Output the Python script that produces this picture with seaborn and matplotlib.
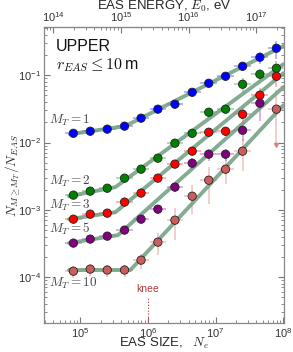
import numpy as np
import pandas as pd
import matplotlib
matplotlib.use("Agg")
import matplotlib.pyplot as plt
import seaborn as sns

# EAS size bins (bin centres, Ne)
ne = [7.9e4, 1.4e5, 2.5e5, 4.5e5, 7.9e5, 1.4e6, 2.5e6, 4.5e6, 7.9e6,
      1.4e7, 2.5e7, 4.5e7, 7.9e7]
ne_halfbin = 1.33  # multiplicative half-width of a bin

series = ["1", "2", "3", "5", "10"]
colors = {"1": "#0000ff", "2": "#008000", "3": "#ff0000",
          "5": "#800080", "10": "#cd5c5c"}

frac_1 = [0.0137, 0.0147, 0.0158, 0.0175, 0.0230, 0.0313, 0.0371, 0.0558,
          0.0760, 0.0966, 0.136, 0.185, 0.252]
frac_2 = [1.65e-3, 1.89e-3, 2.09e-3, 2.95e-3, 4.01e-3, 5.85e-3, 9.77e-3,
          0.0137, 0.0282, 0.0313, 0.0735, 0.1035, 0.127]
frac_3 = [7.24e-4, 8.60e-4, 8.90e-4, 1.30e-3, 1.77e-3, 2.95e-3, 4.77e-3,
          7.43e-3, 0.0142, 0.0147, 0.0263, 0.0505, 0.0966]
frac_5 = [3.19e-4, 3.66e-4, 4.05e-4, 4.98e-4, 7.24e-4, 1.02e-3, 2.17e-3,
          4.92e-3, 6.70e-3, 6.70e-3, 0.0152, 0.0384, np.nan]
frac_10 = [1.22e-4, 1.31e-4, 1.27e-4, 1.27e-4, 1.78e-4, 3.30e-4, 7.00e-4,
           1.59e-3, 2.75e-3, 4.01e-3, 7.43e-3, np.nan, 0.0313]

# relative (symmetric) errors
err_1 = [0.03, 0.03, 0.03, 0.03, 0.04, 0.04, 0.05, 0.06, 0.07, 0.1, 0.15, 0.2, 0.3]
err_2 = [0.03, 0.03, 0.04, 0.05, 0.06, 0.07, 0.08, 0.1, 0.12, 0.15, 0.25, 0.2, 0.27]
err_3 = [0.04, 0.04, 0.05, 0.06, 0.08, 0.1, 0.1, 0.12, 0.15, 0.15, 0.25, 0.3, 0.3]
err_5 = [0.05, 0.05, 0.06, 0.07, 0.1, 0.12, 0.15, 0.2, 0.2, 0.2, 0.3, 0.45, np.nan]
err_10 = [0.2, 0.2, 0.2, 0.2, 0.25, 0.35, 0.5, 0.45, 0.55, 0.4, 0.5, np.nan, 0.9]

# last M_T=10 point: lower error drawn as an arrow down to this value
arrow_to = 9.1e-3

# broken power-law fits: (start, knee, end) vertices
fit_ne_1 = [7.0e4, 4.6e5, 1.0e8]
fit_y_1 = [0.0133, 0.0175, 0.272]
fit_ne_2 = [6.8e4, 3.3e5, 1.0e8]
fit_y_2 = [1.59e-3, 2.17e-3, 0.146]
fit_ne_3 = [6.8e4, 3.3e5, 1.0e8]
fit_y_3 = [7.24e-4, 9.2e-4, 0.107]
fit_ne_5 = [6.8e4, 3.6e5, 1.0e8]
fit_y_5 = [3.19e-4, 4.2e-4, 0.0664]
fit_ne_10 = [6.8e4, 5.5e5, 1.0e8]
fit_y_10 = [1.27e-4, 1.27e-4, 0.0358]

label_pos = {"1": 0.0214, "2": 2.66e-3, "3": 1.17e-3, "5": 5.15e-4, "10": 8.1e-5}

fracs = {"1": frac_1, "2": frac_2, "3": frac_3, "5": frac_5, "10": frac_10}
errs = {"1": err_1, "2": err_2, "3": err_3, "5": err_5, "10": err_10}
fits = {"1": (fit_ne_1, fit_y_1), "2": (fit_ne_2, fit_y_2), "3": (fit_ne_3, fit_y_3),
        "5": (fit_ne_5, fit_y_5), "10": (fit_ne_10, fit_y_10)}

rows = []
for s in series:
    for n, f, e in zip(ne, fracs[s], errs[s]):
        if not np.isnan(f):
            rows.append({"series": s, "Ne": n, "frac": f, "rel": e})
df = pd.DataFrame(rows)

fit_rows = []
for s in series:
    for n, f in zip(*fits[s]):
        fit_rows.append({"series": s, "Ne": n, "frac": f})
fit_df = pd.DataFrame(fit_rows)

sns.set_style("ticks")
plt.rcParams["font.family"] = ["Liberation Sans", "DejaVu Sans"]
plt.rcParams["mathtext.fontset"] = "cm"

fig = plt.figure(figsize=(2.93, 3.52), dpi=100)
ax = fig.add_axes([0.150, 0.082, 0.819, 0.841])
ax.set_xscale("log")
ax.set_yscale("log")

# error bars
for s in series:
    d = df[df.series == s]
    yerr = (d.frac * d.rel).values
    lo = yerr.copy()
    if s == "10":
        lo[-1] = d.frac.values[-1] - arrow_to
    xerr = [d.Ne - d.Ne / ne_halfbin, d.Ne * ne_halfbin - d.Ne]
    ax.errorbar(d.Ne, d.frac, xerr=xerr, yerr=[lo, yerr], fmt="none",
                ecolor=colors[s], alpha=0.35, elinewidth=1.2, capsize=0, zorder=2)

d10 = df[df.series == "10"]
ax.plot([d10.Ne.values[-1]], [arrow_to], marker="v", color=colors["10"],
        alpha=0.6, markersize=3, zorder=2)

# fit lines
sns.lineplot(data=fit_df, x="Ne", y="frac", units="series", estimator=None,
             sort=False, color="#6f9e80", lw=2.8, alpha=0.85, ax=ax, zorder=3)

# data points
sns.scatterplot(data=df, x="Ne", y="frac", hue="series", palette=colors,
                s=36, edgecolor="#222222", linewidth=0.6, legend=False,
                ax=ax, zorder=4)

for s in series:
    ax.text(3.5e4, label_pos[s], rf"$M_T = {s}$", fontsize=9.5,
            color="#444444", va="center", ha="left")

ax.text(0.05, 0.935, "UPPER", transform=ax.transAxes, fontsize=11.5,
        color="#111111", va="center")
ax.text(0.05, 0.87, r"$r_{EAS} \leq 10\,$m", transform=ax.transAxes,
        fontsize=11.5, color="#111111", va="center")

# knee marker
ax.text(1e6, 6.6e-5, "knee", color="#b03a3a", fontsize=7.5, ha="center", va="center")
ax.plot([1e6, 1e6], [2.06e-5, 4.8e-5], ls=":", lw=0.8, color="#b03a3a")

ax.set_xlim(2.9e4, 1.02e8)
ax.set_ylim(2.06e-5, 0.52)

ax.set_xlabel(r"EAS SIZE,  $\;N_e$", fontsize=9.5, va="center")
ax.xaxis.set_label_coords(0.5, -0.069)
ax.set_ylabel(r"$N_{M\geq M_T}/N_{EAS}$", fontsize=9.5, va="center")
ax.yaxis.set_label_coords(-0.128, 0.5)

top = ax.secondary_xaxis("top", functions=(lambda n: n * 10**9.4,
                                            lambda e: e / 10**9.4))
top.set_xlabel(r"EAS ENERGY, $E_0$, eV", fontsize=9.5, va="center")
top.xaxis.set_label_coords(0.5, 1.07, transform=ax.transAxes)

for a in (ax, top):
    a.tick_params(which="both", direction="in", colors="#777777",
                  labelcolor="#333333", labelsize=8)
    a.tick_params(which="major", length=4, width=0.8)
    a.tick_params(which="minor", length=2, width=0.6)
ax.tick_params(which="both", top=False, right=True)
ax.tick_params(axis="x", pad=2)
ax.tick_params(axis="y", pad=2)
top.tick_params(axis="x", pad=2)

for sp in ax.spines.values():
    sp.set_color("#888888")
    sp.set_linewidth(0.9)
top.spines["top"].set_color("#888888")

fig.savefig("out.png", dpi=100)
